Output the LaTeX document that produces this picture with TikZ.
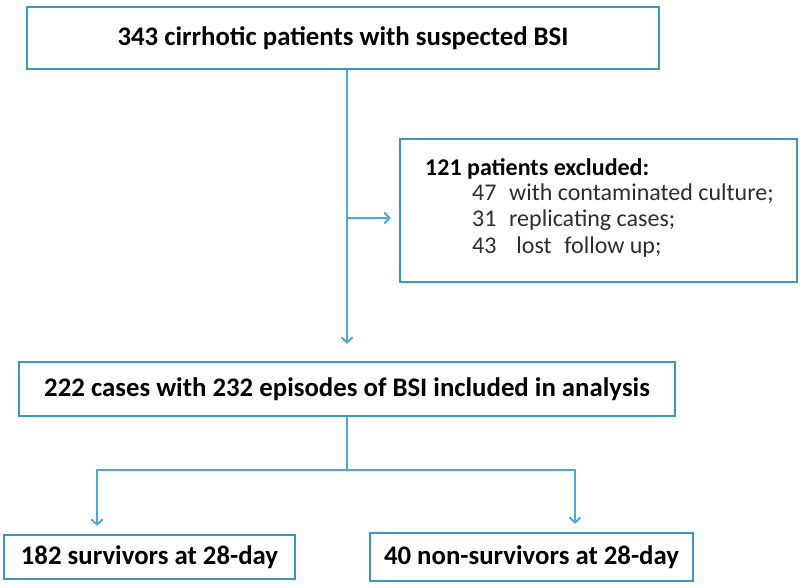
\documentclass[tikz,border=0pt]{standalone}
\usepackage{fontspec}
\setmainfont{Carlito}
\usetikzlibrary{arrows.meta}
\definecolor{boxc}{RGB}{58,152,186}
\definecolor{linec}{RGB}{72,172,210}
\definecolor{txtg}{RGB}{45,45,45}
\tikzset{
  fbox/.style={draw=boxc, line width=2.4pt, fill=white, inner sep=0pt, text=black},
  bigtxt/.style={font=\fontsize{26.8}{30}\selectfont\bfseries},
  exline/.style={anchor=base west, inner sep=0pt, font=\fontsize{24}{28}\selectfont, text=txtg},
  conn/.style={draw=linec, line width=2pt},
  arr/.style={conn, -{Straight Barb[length=5pt,width=11pt,line width=2pt]}},
}
\begin{document}
\begin{tikzpicture}[x=1pt,y=-1pt]
\useasboundingbox (0,0) rectangle (800,587);
\node[fbox, bigtxt, minimum width=632pt, minimum height=62pt] (top) at (343,38) {343 cirrhotic patients with suspected BSI};
\node[fbox, minimum width=397pt, minimum height=143pt] (excl) at (598.5,210.5) {};
\node[exline, font=\fontsize{24}{28}\selectfont\bfseries, text=black] (e1) at (425,175) {121 patients excluded:};
\node[exline] (e2) at (472,200) {47\hspace{0.3em} with contaminated culture;};
\node[exline] (e3) at (472,226) {31\hspace{0.3em} replicating cases;};
\node[exline] (e4) at (472,253) {43\hspace{0.6em} lost\hspace{0.3em} follow up;};
\node[fbox, bigtxt, minimum width=656pt, minimum height=54pt] (mid) at (347,389) {222 cases with 232 episodes of BSI included in analysis};
\node[fbox, bigtxt, minimum width=291pt, minimum height=44pt] (bl) at (149.5,557) {182 survivors at 28-day};
\node[fbox, bigtxt, minimum width=323pt, minimum height=48pt] (br) at (531.5,557) {40 non-survivors at 28-day};
\coordinate (j1) at (347,218);
\coordinate (j2) at (347,470);
\coordinate (jl) at (97,470);
\coordinate (jr) at (575,470);
\draw[arr, shorten >=17pt] (top.south -| mid.north) -- (mid.north);
\draw[arr, shorten >=8pt] (j1) -- (j1 -| excl.west);
\draw[conn] (mid.south) -- (j2);
\draw[arr, shorten >=8pt] (j2) -- (jl) -- (jl |- bl.north);
\draw[arr, shorten >=8pt] (j2) -- (jr) -- (jr |- br.north);
\end{tikzpicture}
\end{document}
